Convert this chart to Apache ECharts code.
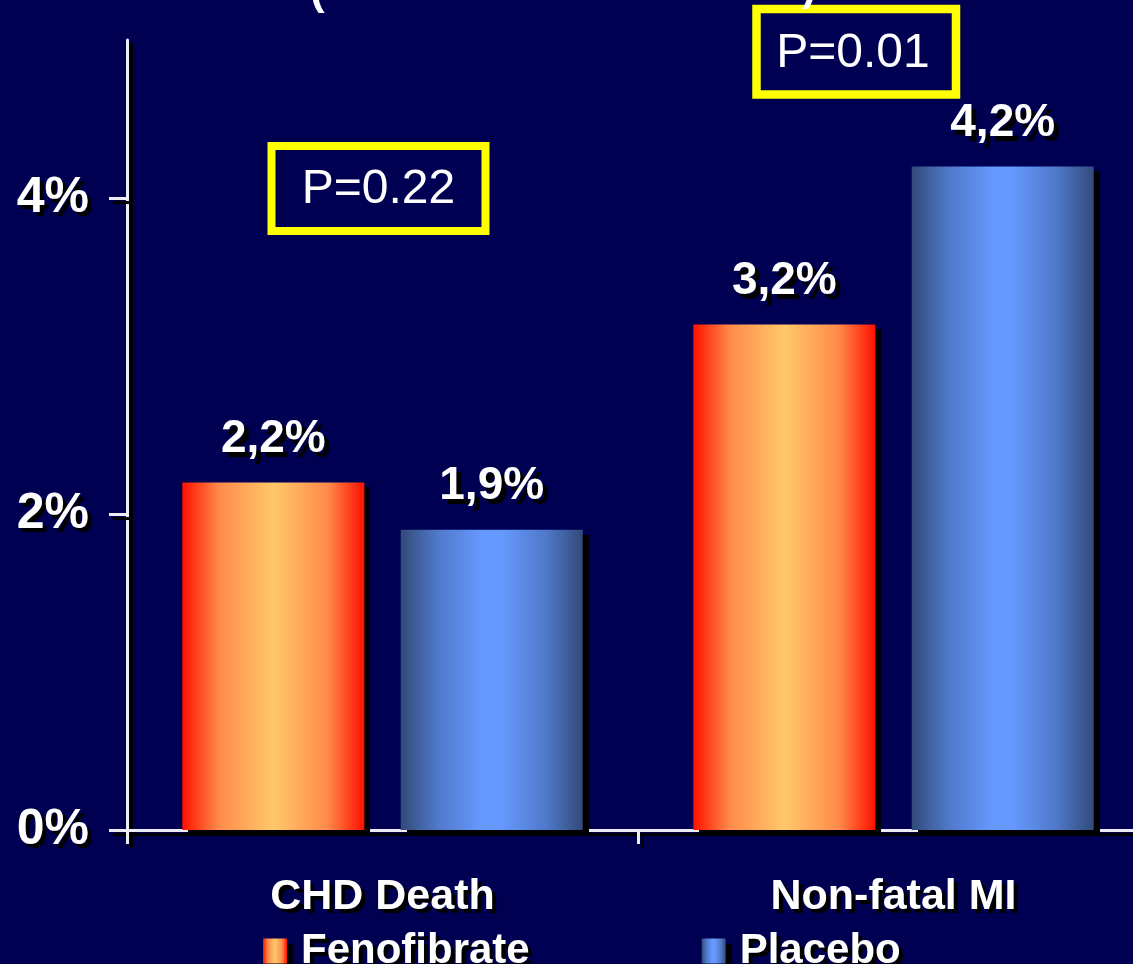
<!DOCTYPE html>
<html>
<head>
<meta charset="utf-8">
<script src="https://cdn.jsdelivr.net/npm/echarts@6/dist/echarts.min.js"></script>
<style>
  html, body { margin: 0; padding: 0; background: #000052; }
  #chart { width: 1133px; height: 964px; }
</style>
</head>
<body>
<div id="chart"></div>
<script>
// Event rates (% of patients) by endpoint and treatment arm
const categories = ['CHD Death', 'Non-fatal MI'];
const fenofibrate = [2.2, 3.2];
const placebo = [1.9, 4.2];
const yTickValues = [0, 2, 4];
const pValues = ['P=0.22', 'P=0.01'];

const FONT = '"Liberation Sans", Arial, sans-serif';
const shadowText = { textShadowColor: '#000', textShadowBlur: 0.5, textShadowOffsetX: 4, textShadowOffsetY: 4 };
const lineShadow = { shadowColor: '#000', shadowBlur: 0.5, shadowOffsetX: 4, shadowOffsetY: 4 };

const fenoGradient = new echarts.graphic.LinearGradient(0, 0, 1, 0, [
  { offset: 0, color: '#ff1000' },
  { offset: 0.2, color: '#ff8a4a' },
  { offset: 0.5, color: '#ffc86a' },
  { offset: 0.8, color: '#ff8a4a' },
  { offset: 1, color: '#ff1000' }
]);
const placeboGradient = new echarts.graphic.LinearGradient(0, 0, 1, 0, [
  { offset: 0, color: '#324a7a' },
  { offset: 0.2, color: '#4f78c8' },
  { offset: 0.45, color: '#6699ff' },
  { offset: 0.55, color: '#6699ff' },
  { offset: 0.8, color: '#4f78c8' },
  { offset: 1, color: '#324a7a' }
]);

const fmt = v => v.toFixed(1).replace('.', ',') + '%';

const barLabel = Object.assign({
  show: true,
  position: 'top',
  distance: 20,
  color: '#fff',
  fontFamily: FONT,
  fontWeight: 'bold',
  fontSize: 46,
  formatter: p => fmt(p.value)
}, shadowText, { textShadowOffsetX: 5, textShadowOffsetY: 5 });

const barShadow = { shadowColor: '#000', shadowBlur: 0.5, shadowOffsetX: 6, shadowOffsetY: 5 };

const chart = echarts.init(document.getElementById('chart'), null, { renderer: 'canvas' });

chart.setOption({
  backgroundColor: '#000052',
  animation: false,
  grid: { left: 127, top: 40, width: 1022, height: 790, outerBoundsMode: 'none', containLabel: false },
  legend: {
    data: ['Fenofibrate', 'Placebo'],
    left: 258,
    top: 925,
    icon: 'rect',
    itemWidth: 24,
    itemHeight: 25,
    itemGap: 172,
    itemStyle: barShadow,
    textStyle: Object.assign({
      color: '#fff', fontFamily: FONT, fontWeight: 'bold', fontSize: 42, padding: [0, 0, 0, 9]
    }, shadowText)
  },
  xAxis: {
    type: 'category',
    data: categories,
    axisLine: { show: true, lineStyle: Object.assign({ color: '#ececf4', width: 3 }, lineShadow) },
    axisTick: { show: true, length: 14, lineStyle: Object.assign({ color: '#ececf4', width: 3 }, lineShadow) },
    axisLabel: Object.assign({
      color: '#fff', fontFamily: FONT, fontWeight: 'bold', fontSize: 43, margin: 46
    }, shadowText),
    splitLine: { show: false }
  },
  yAxis: {
    type: 'value',
    min: 0,
    max: 5,
    interval: 1,
    axisLine: { show: true, lineStyle: Object.assign({ color: '#ececf4', width: 3 }, lineShadow) },
    axisTick: { show: true, length: 18, customValues: yTickValues, lineStyle: Object.assign({ color: '#ececf4', width: 3 }, lineShadow) },
    axisLabel: Object.assign({
      color: '#fff', fontFamily: FONT, fontWeight: 'bold', fontSize: 50, margin: 38,
      customValues: yTickValues,
      formatter: '{value}%'
    }, shadowText),
    splitLine: { show: false }
  },
  series: [
    {
      name: 'Fenofibrate',
      type: 'bar',
      data: fenofibrate,
      barWidth: 182,
      barGap: '20%',
      itemStyle: Object.assign({ color: fenoGradient }, barShadow),
      label: barLabel
    },
    {
      name: 'Placebo',
      type: 'bar',
      data: placebo,
      barWidth: 182,
      barGap: '20%',
      itemStyle: Object.assign({ color: placeboGradient }, barShadow),
      label: barLabel
    }
  ],
  graphic: [
    // lower ends of the heading's parentheses, heading itself sits above the page
    { type: 'text', left: 310, top: -30, z: 1, style: { text: '(', fill: '#fff', font: 'bold 44px ' + FONT } },
    { type: 'text', left: 802, top: -34, z: 1, style: { text: ')', fill: '#fff', font: 'bold 44px ' + FONT } },
    // p-value boxes
    {
      type: 'group', z: 10, children: [
        { type: 'rect', shape: { x: 271.5, y: 146, width: 214, height: 85 },
          style: { fill: '#000052', stroke: '#ffff00', lineWidth: 8 } },
        { type: 'text', x: 378.5, y: 189.5,
          style: { text: pValues[0], fill: '#fff', font: '48px ' + FONT, align: 'center', verticalAlign: 'middle' } },
        { type: 'rect', shape: { x: 756.5, y: 9, width: 199.5, height: 85.5 },
          style: { fill: '#000052', stroke: '#ffff00', lineWidth: 8.5 } },
        { type: 'text', x: 853, y: 53.5,
          style: { text: pValues[1], fill: '#fff', font: '48px ' + FONT, align: 'center', verticalAlign: 'middle' } }
      ]
    }
  ]
});
</script>
</body>
</html>
